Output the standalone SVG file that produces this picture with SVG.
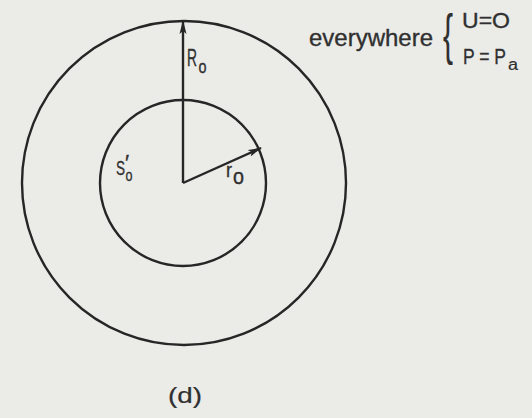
<svg xmlns="http://www.w3.org/2000/svg" width="532" height="418" viewBox="0 0 532 418">
<style>
.ln{fill:none;stroke:#262626;stroke-width:2.4}
.t{font-family:"Liberation Sans",Arial,sans-serif;fill:#303030;stroke:#303030;stroke-width:0.35}
</style>
<defs>
<marker id="ah" viewBox="0 0 14 8" refX="13" refY="4" markerWidth="14" markerHeight="8" markerUnits="userSpaceOnUse" orient="auto">
<path d="M0,0.5 L14,4 L0,7.5 L3,4 Z" fill="#262626"/>
</marker>
</defs>
<rect width="532" height="418" fill="#ebebe8"/>
<g id="outer"><circle class="ln" cx="184" cy="183" r="162"/></g>
<g id="inner"><circle class="ln" cx="183" cy="183" r="83"/></g>
<g id="connectors">
<line class="ln" x1="183" y1="183" x2="183" y2="21" marker-end="url(#ah)"/>
<line class="ln" x1="183" y1="183" x2="261" y2="148" marker-end="url(#ah)"/>
</g>
<g id="labels">
<text class="t" x="187" y="66" font-size="23" textLength="10" lengthAdjust="spacingAndGlyphs">R</text>
<text class="t" x="198.5" y="73" font-size="18" textLength="8" lengthAdjust="spacingAndGlyphs">o</text>
<text class="t" x="116" y="175" font-size="21" textLength="9" lengthAdjust="spacingAndGlyphs">S</text>
<text class="t" x="125.5" y="181" font-size="17" textLength="7" lengthAdjust="spacingAndGlyphs">o</text>
<text class="t" x="125" y="170" font-size="22">′</text>
<text class="t" x="226" y="177" font-size="21" textLength="6" lengthAdjust="spacingAndGlyphs">r</text>
<text class="t" x="233" y="184" font-size="22" textLength="11" lengthAdjust="spacingAndGlyphs">o</text>
<text class="t" x="309" y="46" font-size="24" textLength="124" lengthAdjust="spacingAndGlyphs">everywhere</text>
<text class="t" x="443" y="53" font-size="56" textLength="10" lengthAdjust="spacingAndGlyphs" style="stroke-width:0.2">{</text>
<text class="t" x="462" y="28" font-size="22" textLength="48" lengthAdjust="spacingAndGlyphs">U=O</text>
<text class="t" x="463" y="64" font-size="22" textLength="43" lengthAdjust="spacingAndGlyphs">P = P</text>
<text class="t" x="508" y="70" font-size="16" textLength="10" lengthAdjust="spacingAndGlyphs" style="stroke-width:0.2">a</text>
<text class="t" x="168" y="403" font-size="22" textLength="34" lengthAdjust="spacingAndGlyphs" style="stroke-width:0.2">(d)</text>
</g>
</svg>
